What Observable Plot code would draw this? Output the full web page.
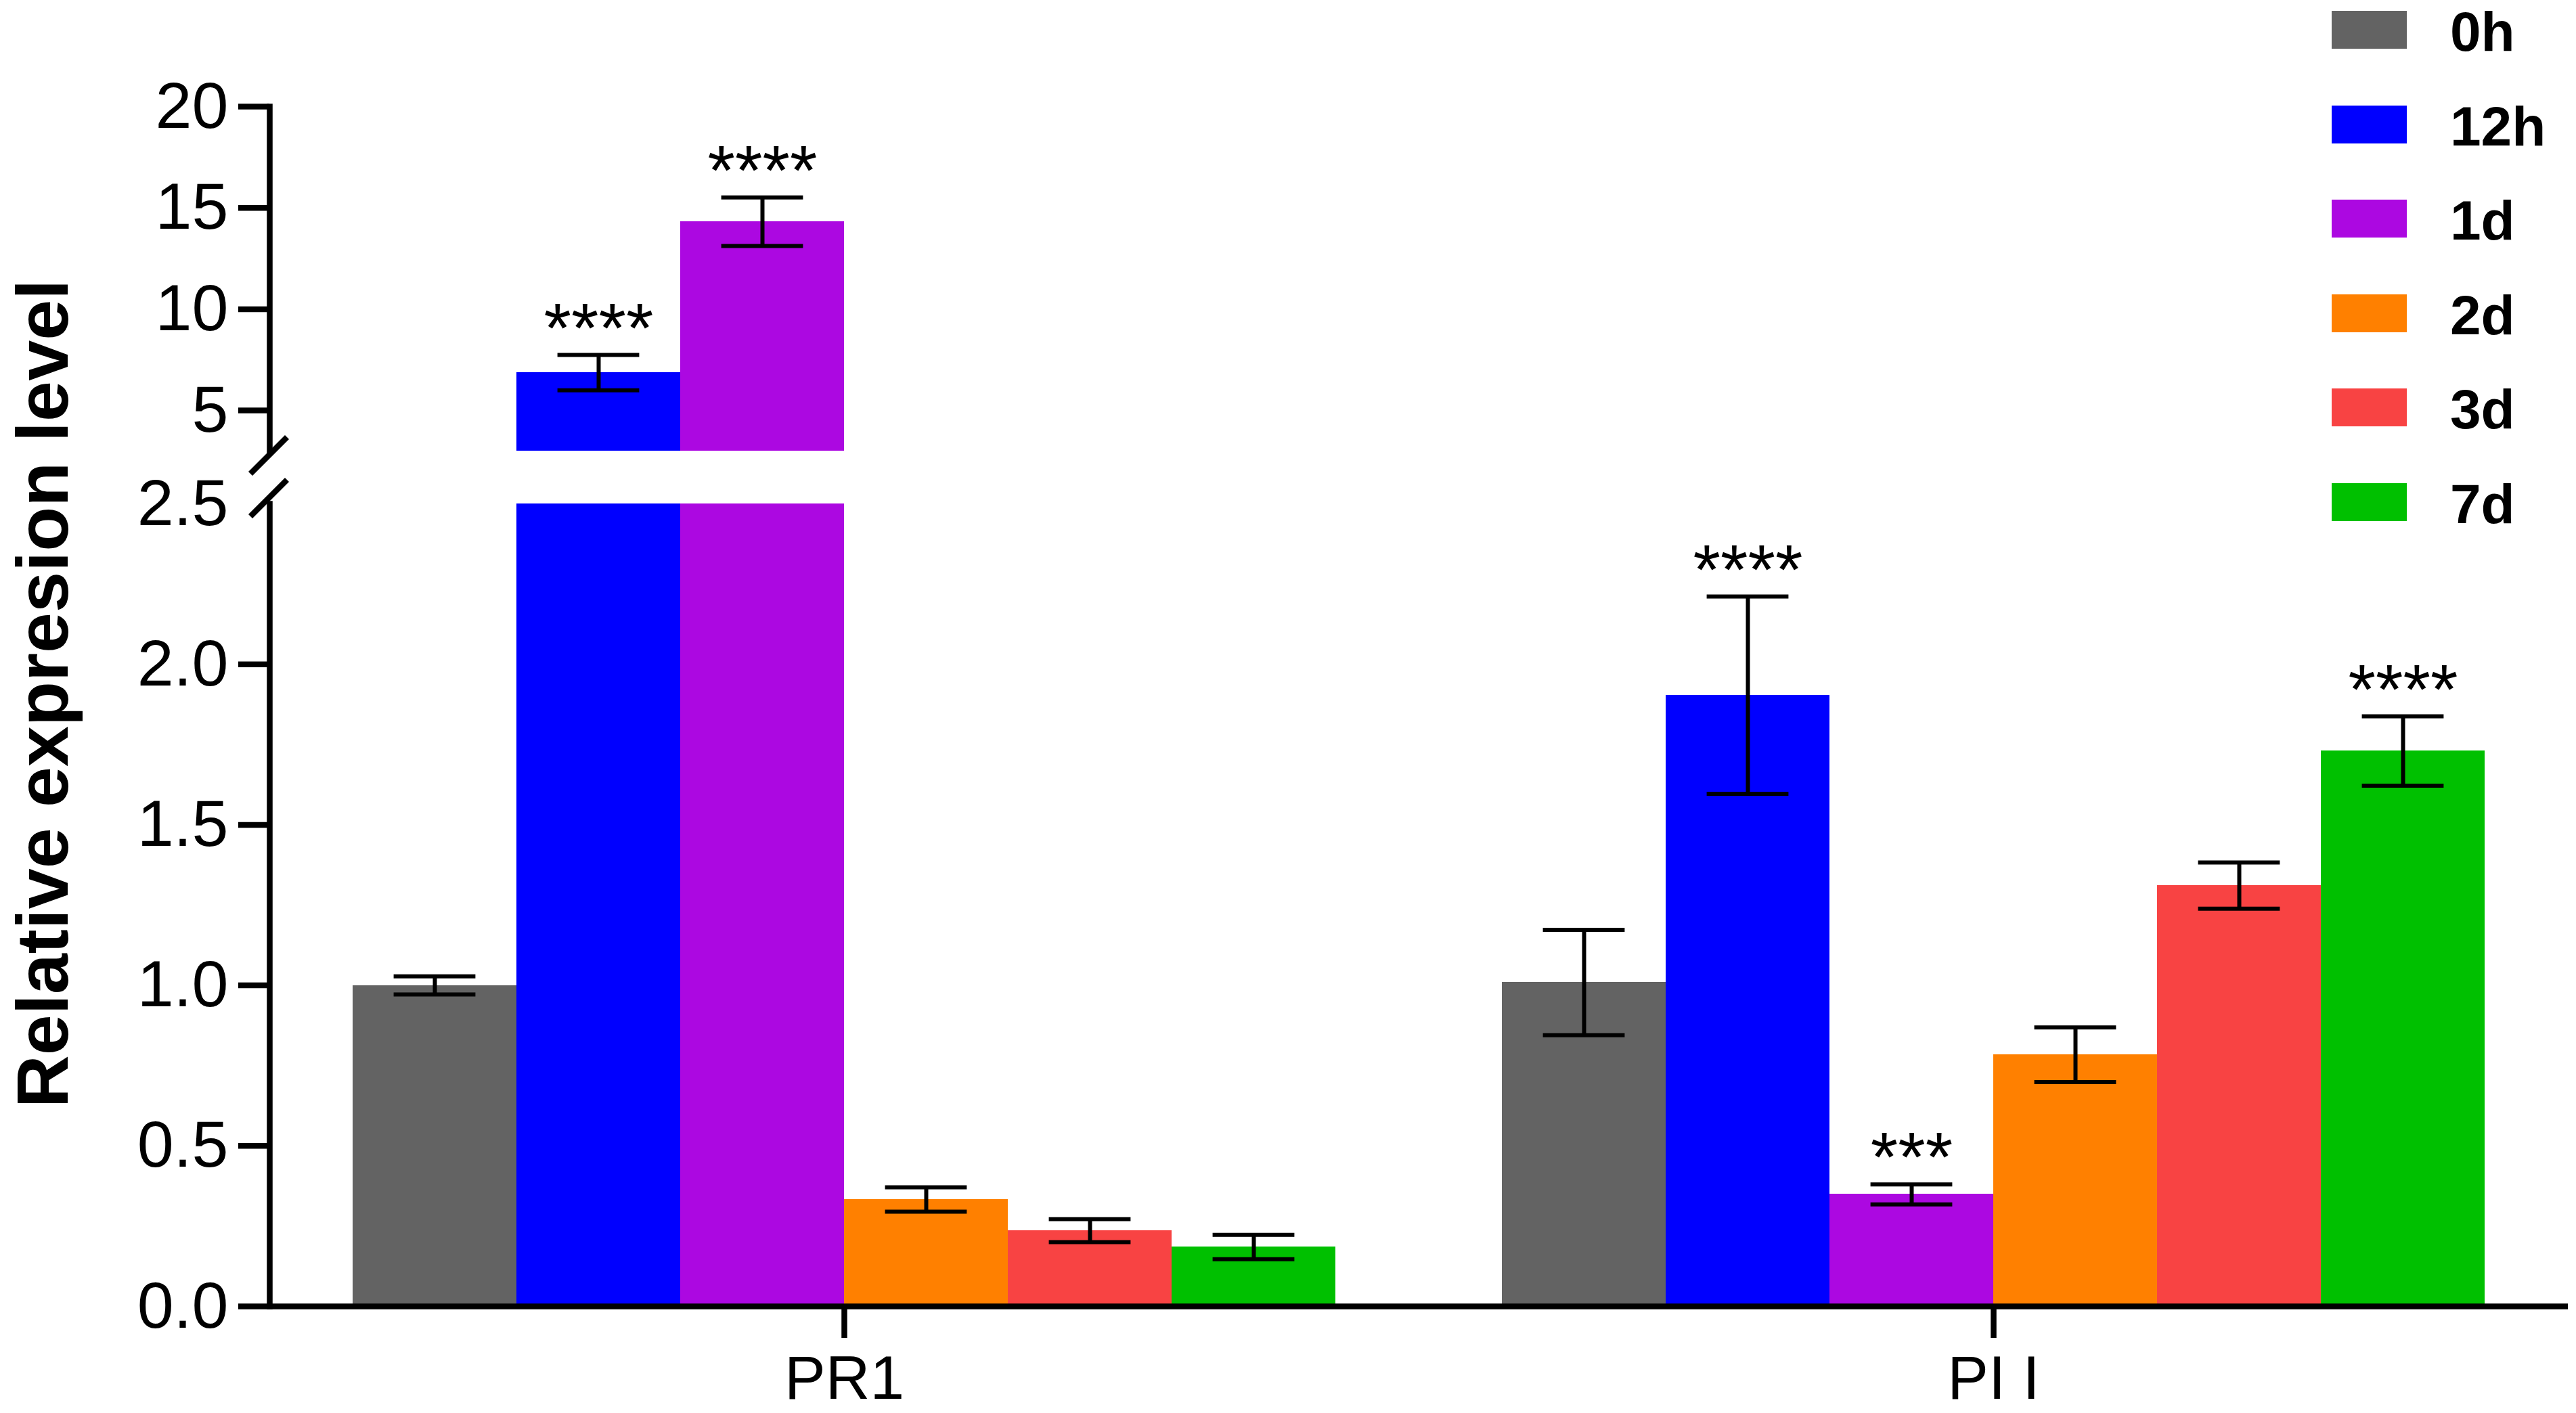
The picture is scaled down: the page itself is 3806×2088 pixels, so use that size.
<!DOCTYPE html>
<html>
<head>
<meta charset="utf-8">
<script src="https://cdn.jsdelivr.net/npm/d3@7"></script>
<script src="https://cdn.jsdelivr.net/npm/@observablehq/plot@0.6"></script>
<style>
html, body { margin: 0; padding: 0; background: #fff; }
#chart { position: relative; width: 3806px; height: 2088px; overflow: hidden; color: #000;
  font-family: "Liberation Sans", Arial, Helvetica, sans-serif; background: #fff; }
#chart svg { position: absolute; left: 0; top: 0; }
</style>
</head>
<body>
<div id="chart"></div>
<script>
// ---- data ----
const genes = ["PR1", "PI I"];
const times = ["0h", "12h", "1d", "2d", "3d", "7d"];
const colors = ["#636363", "#0000FF", "#AC08E1", "#FF8000", "#F84343", "#00C000"];
const pr1Mean = [1.00, 6.87, 14.32, 0.333, 0.236, 0.185];
const pr1Err  = [0.028, 0.87, 1.20, 0.038, 0.036, 0.038];
const pr1Sig  = ["", "****", "****", "", "", ""];
const pi1Mean = [1.009, 1.904, 0.349, 0.784, 1.311, 1.730];
const pi1Err  = [0.164, 0.307, 0.031, 0.085, 0.072, 0.108];
const pi1Sig  = ["", "****", "***", "", "", "****"];
const lowerTicks = [0, 0.5, 1.0, 1.5, 2.0];
const breakTicks = [2.5];
const upperTicks = [5, 10, 15, 20];
const lowerDomain = [0, 2.5];
const upperDomain = [3, 20];
const yTitle = "Relative expresion level";

const means = [pr1Mean, pi1Mean], errs = [pr1Err, pi1Err], sigs = [pr1Sig, pi1Sig];
const rows = genes.flatMap((g, gi) => times.map((t, ti) => ({
  gene: g, time: t, mean: means[gi][ti], err: errs[gi][ti], sig: sigs[gi][ti]
})));

const upperRows = rows.filter(d => d.mean > upperDomain[0]);
const lowerRows = rows.filter(d => d.mean + d.err <= lowerDomain[1]);

const W = 3806, H = 2088;
const font = '"Liberation Sans", Arial, Helvetica, sans-serif';
const common = {
  width: W, height: H, marginLeft: 397, marginRight: 12,
  fx: {domain: genes, paddingInner: 0, paddingOuter: 0, axis: null, label: null},
  x: {domain: times, paddingInner: 0, paddingOuter: 0.5, axis: null},
  color: {domain: times, range: colors},
  style: {fontFamily: font, background: "none", overflow: "visible", color: "#000"}
};
const AX = 8.5, EB = 6, CAP = 60.6;

function errMarks(data) {
  return [
    Plot.ruleX(data, {fx: "gene", x: "time", y1: d => d.mean - d.err, y2: d => d.mean + d.err, stroke: "#000", strokeWidth: EB}),
    Plot.tickY(data, {fx: "gene", x: "time", y: d => d.mean + d.err, insetLeft: CAP, insetRight: CAP, stroke: "#000", strokeWidth: EB}),
    Plot.tickY(data, {fx: "gene", x: "time", y: d => d.mean - d.err, insetLeft: CAP, insetRight: CAP, stroke: "#000", strokeWidth: EB}),
    Plot.text(data.filter(d => d.sig), {fx: "gene", x: "time", y: d => d.mean + d.err, text: "sig",
      lineAnchor: "bottom", dy: -4, fontSize: 104, fill: "#000"})
  ];
}

const upper = Plot.plot({
  ...common,
  marginTop: 157, marginBottom: H - 666,
  y: {domain: upperDomain, axis: null},
  marks: [
    Plot.barY(rows, {fx: "gene", x: "time", y1: () => 0, y2: "mean", fill: "time", clip: true, shapeRendering: "crispEdges"}),
    ...errMarks(upperRows),
    Plot.frame({anchor: "left", facetAnchor: "left", stroke: "#000", strokeWidth: AX, strokeLinecap: "square"}),
    Plot.axisY(upperTicks, {anchor: "left", tickSize: 46, tickPadding: 15, tickFormat: d3.format("d"),
      fontSize: 97, strokeWidth: AX, label: null})
  ]
});

const lower = Plot.plot({
  ...common,
  marginTop: 744, marginBottom: H - 1930,
  y: {domain: lowerDomain, axis: null},
  marks: [
    Plot.barY(rows, {fx: "gene", x: "time", y1: () => 0, y2: "mean", fill: "time", clip: true, shapeRendering: "crispEdges"}),
    ...errMarks(lowerRows),
    Plot.ruleY([0], {stroke: "#000", strokeWidth: AX}),
    Plot.frame({anchor: "left", facetAnchor: "left", stroke: "#000", strokeWidth: AX, strokeLinecap: "square"}),
    Plot.axisY(lowerTicks, {anchor: "left", tickSize: 46, tickPadding: 15, tickFormat: d3.format(".1f"),
      fontSize: 97, strokeWidth: AX, label: null}),
    Plot.axisY(breakTicks, {anchor: "left", tickSize: 0, tickPadding: 61, tickFormat: d3.format(".1f"),
      fontSize: 97, strokeWidth: 0, label: null}),
    Plot.axisFx({anchor: "bottom", tickSize: 47, tickPadding: 25, fontSize: 91, strokeWidth: AX, label: null})
  ]
});

const chart = document.getElementById("chart");
chart.appendChild(upper);
chart.appendChild(lower);

// axis break marks, placed from the two y scales
const yU = upper.scale("y"), yL = lower.scale("y");
const xAxis = 397;
const breaks = [yU.apply(upperDomain[0]) + 7, yL.apply(lowerDomain[1]) - 8];
const svgL = d3.select(lower);
breaks.forEach(cy => {
  svgL.append("line")
    .attr("x1", xAxis - 27).attr("y1", cy + 27)
    .attr("x2", xAxis + 27).attr("y2", cy - 27)
    .attr("stroke", "#000").attr("stroke-width", AX);
});

// y-axis title
const title = document.createElement("div");
title.textContent = yTitle;
title.style.cssText = `position:absolute;left:${63 - 800}px;top:${1025 - 50}px;width:1600px;height:100px;line-height:100px;` +
  `text-align:center;font-weight:bold;font-size:108px;white-space:nowrap;transform:rotate(-90deg);transform-origin:50% 50%;`;
chart.appendChild(title);

// legend
const cs = upper.scale("color");
const legend = document.createElement("div");
legend.style.cssText = "position:absolute;left:3445px;top:16px;";
times.forEach((t, i) => {
  const row = document.createElement("div");
  row.style.cssText = `position:absolute;left:0;top:${i * 139.6}px;height:56px;display:flex;align-items:center;white-space:nowrap;`;
  const sw = document.createElement("span");
  sw.style.cssText = `display:inline-block;width:111px;height:56px;background:${cs.apply(t)};`;
  const lb = document.createElement("span");
  lb.textContent = t;
  lb.style.cssText = "position:relative;top:3px;margin-left:64px;font-weight:bold;font-size:82px;line-height:56px;";
  row.appendChild(sw); row.appendChild(lb);
  legend.appendChild(row);
});
chart.appendChild(legend);
</script>
</body>
</html>
